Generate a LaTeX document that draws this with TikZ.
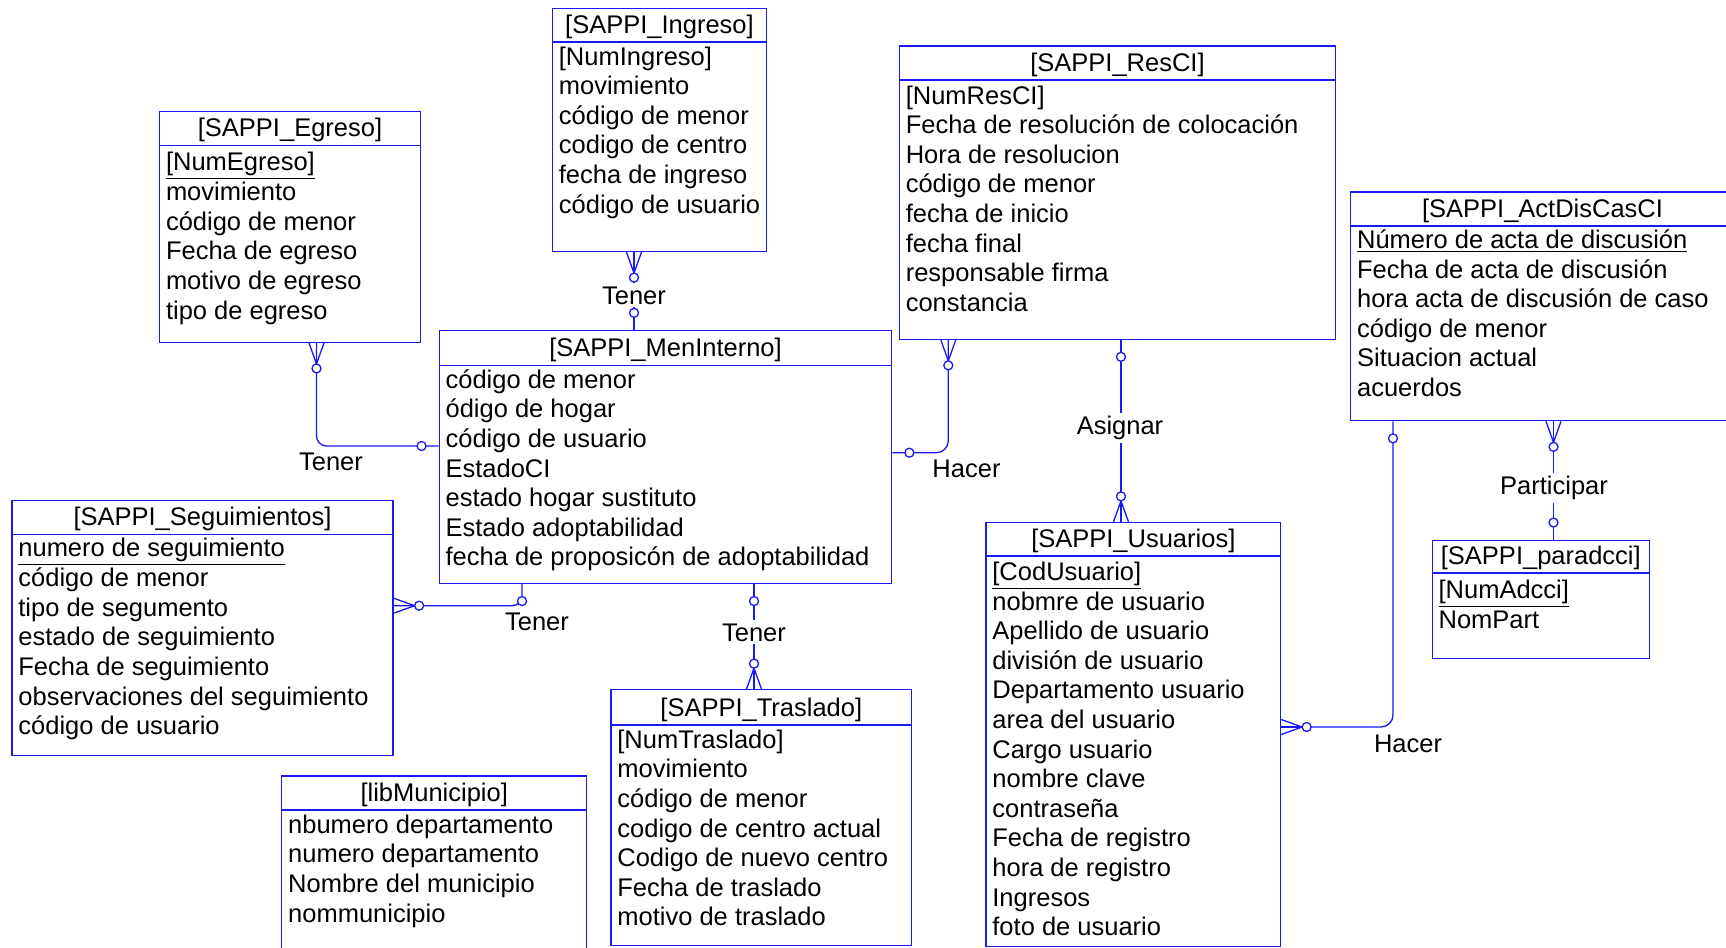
\documentclass[tikz,border=0pt]{standalone}
\usepackage{fontspec}
\setmainfont{Liberation Sans}
\usetikzlibrary{fit}

\definecolor{erazul}{RGB}{25,25,245}

% list of attributes, one per line
\newcommand{\filas}[1]{\begin{tabular}[t]{@{}l@{}}#1\end{tabular}}

\tikzset{
  entidad/.style={draw=erazul, line width=0.65pt, inner sep=0pt},
  rel/.style={draw=erazul, line width=0.65pt},
  titulo/.style={anchor=base, inner sep=0pt},
  campos/.style={anchor=base west, inner sep=0pt},
  etiqueta/.style={anchor=base, fill=white, inner sep=1.5pt},
  % crow's foot with circle, drawn outwards from the box edge
  pata/.pic={
    \draw[rel] (0,-7.5) -- (21,0) -- (0,7.5);
    \draw[rel] (0,0) -- (21,0);
    \draw[rel, fill=white] (25.5,0) circle[radius=2.25pt];
  },
  % single circle
  cero/.pic={
    \draw[rel, fill=white] (17,0) circle[radius=2.25pt];
  }
}

\begin{document}
\begin{tikzpicture}[x=0.5pt, y=-0.5pt, font=\fontsize{12.75}{14.8}\selectfont]
    \useasboundingbox (0,0) rectangle (1726,948);

    % Egreso
    \node[entidad, fit={(159.6,111.2) (420.5,342.3)}] (egreso) {};
    \draw[rel] (egreso.west |- 0,145.3) -- (egreso.east |- 0,145.3);
    \node[titulo] (egresoT) at (290,136.5) {[SAPPI\_Egreso]};
    \node[campos] (egresoC) at (165.6,170.7) {\filas{\underline{[NumEgreso]}\\ movimiento\\ código de menor\\ Fecha de egreso\\ motivo de egreso\\ tipo de egreso}};

    % Ingreso
    \node[entidad, fit={(552.5,8.5) (766.5,251.5)}] (ingreso) {};
    \draw[rel] (ingreso.west |- 0,42) -- (ingreso.east |- 0,42);
    \node[titulo] (ingresoT) at (659.5,33) {[SAPPI\_Ingreso]};
    \node[campos] (ingresoC) at (558.5,65) {\filas{[NumIngreso]\\ movimiento\\ código de menor\\ codigo de centro\\ fecha de ingreso\\ código de usuario}};

    % ResCI
    \node[entidad, fit={(899.4,46) (1335.5,339.2)}] (resci) {};
    \draw[rel] (resci.west |- 0,80) -- (resci.east |- 0,80);
    \node[titulo] (resciT) at (1117.5,71) {[SAPPI\_ResCI]};
    \node[campos] (resciC) at (905.4,104) {\filas{[NumResCI]\\ Fecha de resolución de colocación\\ Hora de resolucion\\ código de menor\\ fecha de inicio\\ fecha final\\ responsable firma\\ constancia}};

    % ActDisCasCI
    \node[entidad, fit={(1350.7,192) (1741,420.7)}] (actdis) {};
    \draw[rel] (actdis.west |- 0,226) -- (actdis.east |- 0,226);
    \node[titulo] (actdisT) at (1542.5,217) {[SAPPI\_ActDisCasCI};
    \node[campos] (actdisC) at (1356.7,248.5) {\filas{\underline{Número de acta de discusión}\\ Fecha de acta de discusión\\ hora acta de discusión de caso\\ código de menor\\ Situacion actual\\ acuerdos}};

    % MenInterno
    \node[entidad, fit={(439.2,330.5) (891.7,583.4)}] (meninterno) {};
    \draw[rel] (meninterno.west |- 0,365.5) -- (meninterno.east |- 0,365.5);
    \node[titulo] (meninternoT) at (665.5,356.5) {[SAPPI\_MenInterno]};
    \node[campos] (meninternoC) at (445.2,388.3) {\filas{código de menor\\ ódigo de hogar\\ código de usuario\\ EstadoCI\\ estado hogar sustituto\\ Estado adoptabilidad\\ fecha de proposicón de adoptabilidad}};

    % Seguimientos
    \node[entidad, fit={(12,500.5) (393,755.5)}] (seguim) {};
    \draw[rel] (seguim.west |- 0,534.5) -- (seguim.east |- 0,534.5);
    \node[titulo] (seguimT) at (202.5,525.5) {[SAPPI\_Seguimientos]};
    \node[campos] (seguimC) at (18,556.7) {\filas{\underline{numero de seguimiento}\\ código de menor\\ tipo de segumento\\ estado de seguimiento\\ Fecha de seguimiento\\ observaciones del seguimiento\\ código de usuario}};

    % Usuarios
    \node[entidad, fit={(986,522.5) (1280.5,946.7)}] (usuarios) {};
    \draw[rel] (usuarios.west |- 0,556) -- (usuarios.east |- 0,556);
    \node[titulo] (usuariosT) at (1133.3,547) {[SAPPI\_Usuarios]};
    \node[campos] (usuariosC) at (992,580) {\filas{\underline{[CodUsuario]}\\ nobmre de usuario\\ Apellido de usuario\\ división de usuario\\ Departamento usuario\\ area del usuario\\ Cargo usuario\\ nombre clave\\ contraseña\\ Fecha de registro\\ hora de registro\\ Ingresos\\ foto de usuario}};

    % paradcci
    \node[entidad, fit={(1432.2,540.2) (1649.5,658.3)}] (paradcci) {};
    \draw[rel] (paradcci.west |- 0,573) -- (paradcci.east |- 0,573);
    \node[titulo] (paradcciT) at (1540.8,564) {[SAPPI\_paradcci]};
    \node[campos] (paradcciC) at (1438.2,598.3) {\filas{\underline{[NumAdcci]}\\ NomPart}};

    % Traslado
    \node[entidad, fit={(611,689.8) (911.6,945.5)}] (traslado) {};
    \draw[rel] (traslado.west |- 0,725) -- (traslado.east |- 0,725);
    \node[titulo] (trasladoT) at (761.3,716) {[SAPPI\_Traslado]};
    \node[campos] (trasladoC) at (617,748.3) {\filas{[NumTraslado]\\ movimiento\\ código de menor\\ codigo de centro actual\\ Codigo de nuevo centro\\ Fecha de traslado\\ motivo de traslado}};

    % libMunicipio
    \node[entidad, fit={(281.8,776) (586.6,960)}] (municipio) {};
    \draw[rel] (municipio.west |- 0,810) -- (municipio.east |- 0,810);
    \node[titulo] (municipioT) at (434.2,801) {[libMunicipio]};
    \node[campos] (municipioC) at (287.8,833.3) {\filas{nbumero departamento\\ numero departamento\\ Nombre del municipio\\ nommunicipio}};

    % Tener: Ingreso - MenInterno
    \draw[rel] (ingreso.south -| 634,0) -- (meninterno.north -| 634,0);
    \node[etiqueta] (tener1) at (634,304) {Tener};
    \pic[rotate=-90] at (ingreso.south -| 634,0) {pata};
    \pic[rotate=90] at (meninterno.north -| 634,0) {cero};

    % Tener: Egreso - MenInterno
    \draw[rel, rounded corners=5pt] (egreso.south -| 316.5,0) |- (meninterno.west |- 0,446);
    \node[etiqueta] (tener2) at (331,470) {Tener};
    \pic[rotate=-90] at (egreso.south -| 316.5,0) {pata};
    \pic[rotate=180] at (meninterno.west |- 0,446) {cero};

    % Tener: MenInterno - Seguimientos
    \draw[rel, rounded corners=5pt] (meninterno.south -| 522,0) |- (seguim.east |- 0,605.7);
    \node[etiqueta] (tener3) at (537,630) {Tener};
    \pic[rotate=-90] at (meninterno.south -| 522,0) {cero};
    \pic at (seguim.east |- 0,605.7) {pata};

    % Tener: MenInterno - Traslado
    \draw[rel] (meninterno.south -| 754,0) -- (traslado.north -| 754,0);
    \node[etiqueta] (tener4) at (754,641) {Tener};
    \pic[rotate=-90] at (meninterno.south -| 754,0) {cero};
    \pic[rotate=90] at (traslado.north -| 754,0) {pata};

    % Hacer: MenInterno - ResCI
    \draw[rel, rounded corners=6pt] (meninterno.east |- 0,452.7) -| (resci.south -| 948.3,0);
    \node[etiqueta] (hacer1) at (966.5,477.5) {Hacer};
    \pic at (meninterno.east |- 0,452.7) {cero};
    \pic[rotate=-90] at (resci.south -| 948.3,0) {pata};

    % Asignar: ResCI - Usuarios
    \draw[rel] (resci.south -| 1121,0) -- (usuarios.north -| 1121,0);
    \node[etiqueta] (asignar) at (1120,434.5) {Asignar};
    \pic[rotate=-90] at (resci.south -| 1121,0) {cero};
    \pic[rotate=90] at (usuarios.north -| 1121,0) {pata};

    % Hacer: Usuarios - ActDisCasCI
    \draw[rel, rounded corners=6pt] (usuarios.east |- 0,727) -| (actdis.south -| 1393,0);
    \node[etiqueta] (hacer2) at (1408,752.5) {Hacer};
    \pic at (usuarios.east |- 0,727) {pata};
    \pic[rotate=-90] at (actdis.south -| 1393,0) {cero};

    % Participar: ActDisCasCI - paradcci
    \draw[rel] (actdis.south -| 1553.5,0) -- (paradcci.north -| 1553.5,0);
    \node[etiqueta] (participar) at (1554,494.3) {Participar};
    \pic[rotate=-90] at (actdis.south -| 1553.5,0) {pata};
    \pic[rotate=90] at (paradcci.north -| 1553.5,0) {cero};
\end{tikzpicture}
\end{document}
